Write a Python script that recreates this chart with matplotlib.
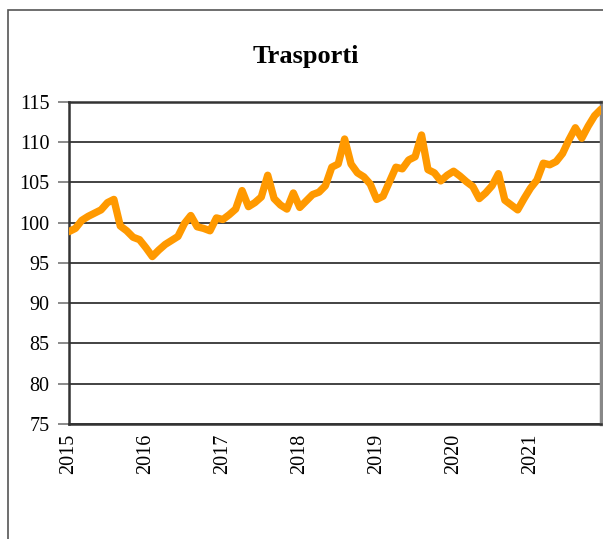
import matplotlib
matplotlib.use("Agg")
import matplotlib.pyplot as plt
import matplotlib.patches as mpatches

# monthly index, Jan 2015 - Dec 2021
values = [
    98.9, 99.3, 100.3, 100.8, 101.2, 101.6, 102.5, 102.9, 99.6, 99.0, 98.2, 97.9,
    96.9, 95.8, 96.6, 97.3, 97.8, 98.3, 99.9, 100.9, 99.5, 99.3, 99.0, 100.6,
    100.4, 101.0, 101.7, 104.0, 102.0, 102.5, 103.2, 105.9, 103.0, 102.2, 101.7, 103.7,
    101.9, 102.7, 103.5, 103.8, 104.6, 106.9, 107.3, 110.4, 107.3, 106.2, 105.7, 104.8,
    102.9, 103.3, 105.1, 106.9, 106.7, 107.8, 108.2, 110.9, 106.6, 106.2, 105.2, 105.9,
    106.4, 105.8, 105.1, 104.5, 103.0, 103.7, 104.6, 106.1, 102.8, 102.2, 101.6, 103.0,
    104.3, 105.3, 107.4, 107.2, 107.6, 108.6, 110.3, 111.8, 110.5, 112.0, 113.3, 114.1,
]
years = ["2015", "2016", "2017", "2018", "2019", "2020", "2021"]
title = "Trasporti"

plt.rcParams['font.family'] = ['Liberation Serif', 'DejaVu Serif']

fig = plt.figure(figsize=(6.03, 5.39), dpi=100)

# outer chart frame (cropped on the right and bottom)
frame = mpatches.Rectangle((8 / 603, -0.1), 1.2, 1 - 10 / 539 + 0.1,
                           transform=fig.transFigure, fill=False,
                           edgecolor='#555555', linewidth=1.2)
fig.patches.append(frame)

ax = fig.add_axes([69 / 603, 1 - 424 / 539, 532 / 603, 322 / 539])

months = list(range(len(values)))
ax.plot(months, values, color='#FF9900', linewidth=5.3,
        solid_joinstyle='round', solid_capstyle='round', zorder=3)

ax.set_xlim(0, len(values) - 1)
ax.set_ylim(75, 115)
ax.set_yticks(range(75, 116, 5))
ax.set_xticks([12 * i for i in range(len(years))])
ax.set_xticklabels(years, rotation=90)

ax.yaxis.grid(True, color='#222222', linewidth=1.2)
ax.set_axisbelow(True)

ax.tick_params(axis='y', length=8, width=1.2, color='#777777', pad=6, labelsize=14.5)
ax.tick_params(axis='x', length=0, pad=7, labelsize=14.5)

for side in ['left', 'bottom', 'top']:
    ax.spines[side].set_color('#333333')
    ax.spines[side].set_linewidth(1.8)
ax.spines['right'].set_color('#888888')
ax.spines['right'].set_linewidth(2.5)

fig.text(306 / 603, 1 - 57 / 539, title, ha='center', va='center',
         fontsize=19, fontweight='bold')

fig.savefig("out.png", dpi=100)
